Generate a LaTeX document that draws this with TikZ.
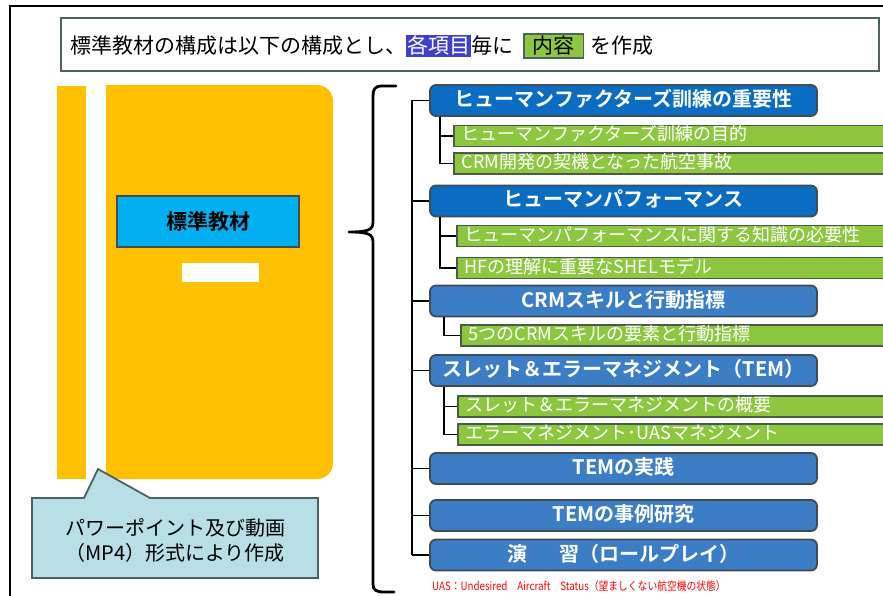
\documentclass[tikz,border=0pt]{standalone}
\usepackage{fontspec}
\setmainfont{Noto Sans CJK JP}[BoldFont={Noto Sans CJK JP Bold}]
\definecolor{bookc}{HTML}{FFC000}
\definecolor{lblue}{HTML}{00B0F0}
\definecolor{dkb}{HTML}{0A6DC2}
\definecolor{ltb}{HTML}{3B7EC6}
\definecolor{bdr}{HTML}{3F4B57}
\definecolor{grn}{HTML}{8DC63F}
\definecolor{gbdr}{HTML}{4B5B4B}
\definecolor{tbdr}{HTML}{4E6262}
\definecolor{hlc}{HTML}{4040D0}
\definecolor{callfill}{HTML}{B8DEE6}
\definecolor{callbdr}{HTML}{4E6060}
\definecolor{notered}{HTML}{FF0000}
\tikzset{
  bluebox/.style={draw=bdr, line width=1.8pt, rounded corners=6pt, minimum width=387pt,
    minimum height=31pt, inner sep=0pt, text=white, text height=15pt, text depth=3pt,
    font=\bfseries\fontsize{20pt}{24pt}\selectfont},
  greenbox/.style={draw=gbdr, fill=grn, line width=1.5pt, anchor=west, text width=440pt,
    align=left, inner xsep=8pt, inner ysep=0pt, minimum height=21pt, text=white,
    text height=13pt, text depth=3pt, font=\fontsize{18pt}{20pt}\selectfont},
  conn/.style={draw=black, line width=1.6pt},
}
\begin{document}
\begin{tikzpicture}[x=1pt,y=-1pt]
\useasboundingbox (0,0) rectangle (883,596);
\clip (0,0) rectangle (883,596);
% outer frame
\draw[line width=2pt] (10,6) rectangle (905,620);
% title
\draw[draw=tbdr, line width=2.4pt] (61,18) rectangle (879,71);
\node[anchor=west, inner sep=0pt, font=\fontsize{21pt}{24pt}\selectfont] (title) at (70,46)
 {標準教材の構成は以下の構成とし、{\setlength{\fboxsep}{1pt}\colorbox{hlc}{\textcolor{white}{各項目}}}毎に\hspace{10pt}{\setlength{\fboxsep}{1.5pt}\setlength{\fboxrule}{1.5pt}\fcolorbox{tbdr}{grn}{\hspace{6.5pt}内容\hspace{6.5pt}}}\hspace{6pt}を作成};
% book
\fill[bookc] (57,86) rectangle (86,479);
\fill[bookc, rounded corners=16pt] (106,85) rectangle (333,479);
\fill[bookc] (106,85) rectangle (200,479);
\node[draw=bdr, fill=lblue, line width=1.8pt, minimum width=182pt, minimum height=51pt, inner sep=0pt,
  font=\bfseries\fontsize{21pt}{24pt}\selectfont] (std) at (208,221.5) {標準教材};
\fill[white] (182,263) rectangle (259,282);
% callout
\draw[draw=callbdr, fill=callfill, line width=1.8pt] (32,498) -- (84,498) -- (98,469) -- (150,498)
  -- (318,498) -- (318,578) -- (32,578) -- cycle;
\node[align=center, inner sep=0pt, font=\fontsize{20pt}{25pt}\selectfont] (calltext) at (175,540)
  {パワーポイント及び動画\\（MP4）形式により作成};
% brace
\draw[line width=2.8pt, line cap=round, line join=round]
  (396,86) -- (382,86) .. controls (375,86) and (373,89) .. (373,96) -- (373,222)
  .. controls (373,230) and (368,232) .. (349,232)
  .. controls (368,232) and (373,234) .. (373,242) -- (373,584)
  .. controls (373,590) and (376,592) .. (384,592) -- (394,592);
% blue boxes
\node[bluebox, fill=dkb] (b1) at (623.5,100.5) {ヒューマンファクターズ訓練の重要性};
\node[bluebox, fill=dkb] (b2) at (623.5,201) {ヒューマンパフォーマンス};
\node[bluebox, fill=ltb] (b3) at (623.5,301) {CRMスキルと行動指標};
\node[bluebox, fill=ltb] (b4) at (623.5,370.5) {スレット＆エラーマネジメント（TEM）};
\node[bluebox, fill=ltb] (b5) at (623.5,468.5) {TEMの実践};
\node[bluebox, fill=ltb] (b6) at (623.5,515.5) {TEMの事例研究};
\node[bluebox, fill=ltb] (b7) at (623.5,555) {演\hspace{1.6em}習（ロールプレイ）};
% green boxes
\node[greenbox] (g1) at (453,136) {ヒューマンファクターズ訓練の目的};
\node[greenbox] (g2) at (453,163.5) {CRM開発の契機となった航空事故};
\node[greenbox] (g3) at (456,236) {ヒューマンパフォーマンスに関する知識の必要性};
\node[greenbox] (g4) at (456,268) {HFの理解に重要なSHELモデル};
\node[greenbox] (g5) at (460,335.5) {5つのCRMスキルの要素と行動指標};
\node[greenbox] (g6) at (457,406.5) {スレット＆エラーマネジメントの概要};
\node[greenbox] (g7) at (457,434.5) {エラーマネジメント･UASマネジメント};
% trunk
\coordinate (tx) at (412,0);
\coordinate (sa) at (440,0);
\coordinate (sb) at (444,0);
\draw[conn] (b1.west -| tx) -- (b7.west -| tx);
\foreach \b in {b1,b2,b3,b4,b5,b6,b7} { \draw[conn] (\b.west -| tx) -- (\b.west); }
% sub branches
\draw[conn] (b1.south -| sa) |- (g2.west);
\draw[conn] (g1.west -| sa) -- (g1.west);
\draw[conn] (b2.south -| sa) |- (g4.west);
\draw[conn] (g3.west -| sa) -- (g3.west);
\draw[conn] (b3.south -| sb) |- (g5.west);
\draw[conn] (b4.south -| sb) |- (g7.west);
\draw[conn] (g6.west -| sb) -- (g6.west);
% note
\node[anchor=west, inner sep=0pt, text=notered, font=\fontsize{11.5pt}{13pt}\selectfont] (note) at (432,586)
  {\scalebox{0.85}[1]{UAS：Undesired　Aircraft　Status（望ましくない航空機の状態）}};
\end{tikzpicture}
\end{document}
